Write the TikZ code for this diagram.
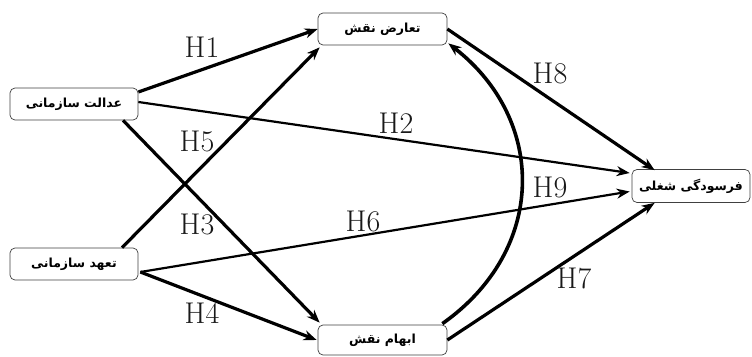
\documentclass[tikz,border=0pt]{standalone}
\usepackage{fontspec}
\TeXXeTstate=1
\newfontfamily\arabicfont[Script=Arabic]{DejaVu Sans Bold}
\usetikzlibrary{arrows.meta}
\tikzset{
  varbox/.style={draw=black!75, line width=0.7pt, rounded corners=5pt, fill=white,
    inner sep=0pt, font=\arabicfont\fontsize{12.5}{12.5}\selectfont},
  hyp/.style={text=black!90, font=\fontsize{30}{30}\selectfont, inner sep=0pt},
  thickarrow/.style={line width=3.2pt, -{Stealth[length=13pt,width=10pt]}},
  thinarrow/.style={line width=2.2pt, -{Stealth[length=13pt,width=10pt]}},
}
\begin{document}
\begin{tikzpicture}[x=1pt,y=-1pt]
\useasboundingbox (0,0) rectangle (752,356);
\node[varbox, minimum width=128pt, minimum height=32pt] (b1) at (74,104) {\beginR عدالت سازمانی\endR};
\node[varbox, minimum width=128pt, minimum height=32pt] (b2) at (74,264) {\beginR تعهد سازمانی\endR};
\node[varbox, minimum width=129pt, minimum height=32pt] (b3) at (382.5,29) {\beginR تعارض نقش\endR};
\node[varbox, minimum width=129pt, minimum height=30pt] (b4) at (382.5,340) {\beginR ابهام نقش\endR};
\node[varbox, minimum width=118pt, minimum height=33pt] (b5) at (691,186) {\beginR فرسودگی شغلی\endR};

\draw[thickarrow] ([yshift=12pt]b1.east) -- (b3.west);
\draw[thinarrow] ([yshift=2pt]b1.east) -- ([xshift=-2pt,yshift=13pt]b5.west);
\draw[thickarrow] ([xshift=49pt]b1.south) -- ([xshift=2pt,yshift=2pt]b4.north west);
\draw[thickarrow] ([xshift=48pt]b2.north) -- ([xshift=2pt,yshift=-2pt]b3.south west);
\draw[thinarrow] ([xshift=2pt,yshift=-8pt]b2.east) -- ([xshift=-2pt,yshift=-5.5pt]b5.west);
\draw[thickarrow] ([xshift=2pt,yshift=-8pt]b2.east) -- ([xshift=-1pt]b4.west);
\draw[thickarrow] (b3.east) -- ([xshift=23pt,yshift=-1pt]b5.north west);
\draw[thickarrow] (b4.east) -- ([xshift=23pt]b5.south west);
\draw[line width=3.6pt, -{Stealth[length=13pt,width=10pt]}]
  ([xshift=-5pt,yshift=1pt]b4.north east) .. controls (547,250) and (547,120) .. ([xshift=1pt,yshift=2pt]b3.south east);

\node[hyp] (h1) at (202,47) {H1};
\node[hyp] (h2) at (396,123) {H2};
\node[hyp] (h3) at (197,224) {H3};
\node[hyp] (h4) at (202,313) {H4};
\node[hyp] (h5) at (197,141) {H5};
\node[hyp] (h6) at (363,221) {H6};
\node[hyp] (h7) at (574,278) {H7};
\node[hyp] (h8) at (550,73) {H8};
\node[hyp] (h9) at (550,187) {H9};
\end{tikzpicture}
\end{document}
